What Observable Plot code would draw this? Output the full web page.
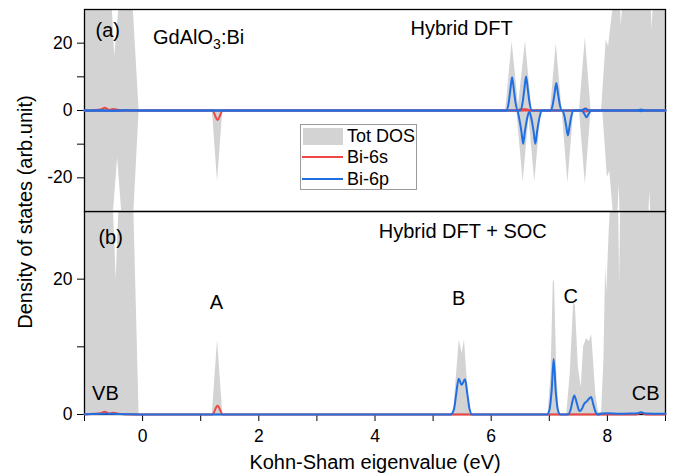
<!DOCTYPE html>
<html><head><meta charset="utf-8">
<script src="https://cdn.jsdelivr.net/npm/d3@7"></script>
<script src="https://cdn.jsdelivr.net/npm/@observablehq/plot@0.6"></script>
<style>
body{margin:0;background:#fff;}
#wrap{position:relative;width:680px;height:475px;overflow:hidden;font-family:"Liberation Sans",Arial,sans-serif;color:#000;}
#wrap svg{position:absolute;left:0;}
#ylab{position:absolute;left:-175px;top:200px;width:400px;height:24px;line-height:24px;text-align:center;font-size:20px;transform:rotate(-90deg);}
#legend{position:absolute;left:300px;top:124px;width:117px;height:66px;box-sizing:border-box;border:1px solid #9a9a9a;background:#fff;}
#legend div{position:absolute;}
#legend span{position:absolute;left:46px;font-size:18px;line-height:18px;white-space:nowrap;}
</style></head><body>
<div id="wrap">
  <div id="ylab">Density of states (arb.unit)</div>
</div>
<script>
// ---------- data (x in eV, y in arb. units) ----------
// Panel (a) Hybrid DFT, spin up (+) and spin down (-)
const totUpA = [[-1,60],[-0.62,42],[-0.52,30],[-0.48,16],[-0.41,30],[-0.32,45],[-0.24,45],[-0.16,30],[-0.06,0],[6.25,0],[6.36,20.4],[6.47,1.5],[6.59,20.6],[6.70,0],[7.02,0],[7.12,20],[7.22,0],[7.52,0],[7.62,21.7],[7.72,0],[7.9,0],[7.98,21],[8.02,19],[8.08,28],[8.14,35],[8.2,40],[8.24,25],[8.29,40],[8.72,45],[8.77,24],[8.82,45],[9,50]];
const totDnA = [[-1,-60],[-0.6,-42],[-0.5,-30],[-0.43,-14],[-0.36,-30],[-0.28,-45],[-0.22,-45],[-0.15,-30],[-0.06,0],[1.2,0],[1.29,-21.2],[1.38,0],[6.44,0],[6.55,-21.2],[6.65,-2],[6.75,-21.2],[6.86,0],[7.22,0],[7.32,-21.6],[7.42,0],[7.52,0],[7.62,-22],[7.72,0],[7.92,0],[8.0,-20],[8.04,-18],[8.1,-30],[8.16,-40],[8.2,-22],[8.24,-40],[8.68,-45],[8.73,-24],[8.78,-45],[9,-50]];
const s6UpA = [[-1,0],[-0.85,0.1],[-0.72,0.3],[-0.65,0.8],[-0.58,0.2],[-0.5,0.45],[-0.42,0.15],[-0.3,0.05],[-0.1,0],[6.45,0],[6.5,0.35],[6.6,0.4],[6.66,0.1],[6.7,0],[7.55,0],[7.62,0.6],[7.69,0],[9,0]];
const s6DnA = [[-1,0],[-0.7,-0.1],[-0.5,-0.1],[-0.2,0],[1.2,0],[1.29,-2.8],[1.38,0],[7.55,0],[7.62,-0.3],[7.69,0],[9,0]];
const p6UpA = [[-1,0],[-0.7,0.1],[-0.55,-0.05],[-0.3,0.05],[-0.1,0],[6.26,0],[6.30,2.2],[6.33,6.2],[6.36,9.9],[6.39,6.2],[6.42,2.2],[6.46,0],[6.50,0],[6.54,2.3],[6.57,6.3],[6.60,10.1],[6.63,6.3],[6.66,2.3],[6.70,0],[7.02,0],[7.06,1.8],[7.09,5],[7.12,8.2],[7.15,5],[7.18,1.8],[7.22,0],[7.56,0],[7.62,0.5],[7.68,0],[8.5,0],[8.58,0.3],[8.64,0],[9,0]];
const p6DnA = [[-1,0],[-0.6,-0.1],[-0.3,0],[6.45,0],[6.48,-2.2],[6.52,-6.2],[6.55,-9.9],[6.58,-6.2],[6.62,-2.2],[6.655,-0.4],[6.69,-2.2],[6.73,-6.2],[6.76,-9.9],[6.79,-6.2],[6.83,-2.2],[6.87,0],[7.22,0],[7.26,-1.6],[7.29,-4.5],[7.32,-7.4],[7.35,-4.5],[7.38,-1.6],[7.42,0],[7.56,0],[7.6,-0.9],[7.64,-2],[7.68,-0.9],[7.72,0],[8.5,0],[8.58,-0.2],[8.64,0],[9,0]];
// Panel (b) Hybrid DFT + SOC
const totB = [[-1,60],[-0.6,42],[-0.5,30],[-0.455,20],[-0.41,30],[-0.3,45],[-0.22,45],[-0.15,30],[-0.06,0],[1.2,0],[1.29,11],[1.38,0],[5.35,0],[5.45,11],[5.5,9],[5.54,11],[5.63,0],[6.98,0],[7.03,6],[7.07,20],[7.09,19.5],[7.13,6],[7.17,0],[7.3,0],[7.36,6],[7.42,16.6],[7.45,16],[7.5,7],[7.55,4],[7.59,10],[7.64,11.2],[7.69,10.8],[7.73,11.8],[7.8,3],[7.85,0.3],[7.9,0.3],[7.94,8],[7.97,22],[7.99,18],[8.03,27],[8.07,33],[8.12,45],[8.18,40],[8.21,19],[8.24,40],[8.32,60],[9,60]];
const s6B = [[-1,0],[-0.85,0.1],[-0.72,0.2],[-0.65,0.4],[-0.58,0.15],[-0.5,0.25],[-0.42,0.1],[-0.2,0],[1.2,0],[1.29,1.3],[1.38,0],[8.5,0],[8.58,0.25],[8.66,0],[9,0]];
const p6B = [[-1,0.05],[-0.6,0.1],[-0.3,0.05],[0,0],[5.3,0],[5.36,0.8],[5.40,3.2],[5.44,5.3],[5.49,4.4],[5.55,5.2],[5.59,3],[5.63,0.7],[5.67,0],[6.96,0],[7.0,0.6],[7.04,3.5],[7.075,8.2],[7.11,3.5],[7.15,0.6],[7.19,0],[7.32,0],[7.37,0.8],[7.40,2],[7.43,2.8],[7.47,1.8],[7.52,0.5],[7.56,0.8],[7.6,1.6],[7.64,1.9],[7.68,2.3],[7.72,2.6],[7.76,1.4],[7.8,0.3],[7.84,0],[7.9,0.15],[8.0,0.2],[8.2,0.1],[8.4,0.15],[8.52,0.2],[8.58,0.35],[8.66,0.15],[9,0.1]];

// ticks
const xTicks = [-1,0,1,2,3,4,5,6,7,8,9];
const xTickLabels = [0,2,4,6,8];
const yTicksA = [-20,-10,0,10,20];
const yTicksB = [0,10,20];
const yTickLabels = [-20,0,20];

// annotations
const labelsA = ["(a)", "GdAlO3:Bi", "Hybrid DFT"];
const labelsAx = [-0.6, 0.18, 5.49];
const labelsAy = [23.7, 21.8, 24.4];
const labelsAanchor = ["middle", "start", "middle"];
const labelsB = ["(b)", "Hybrid DFT + SOC", "A", "B", "C", "VB", "CB"];
const labelsBx = [-0.55, 5.51, 1.27, 5.44, 7.37, -0.64, 8.66];
const labelsBy = [26.1, 27.0, 16.6, 17.1, 17.4, 3.07, 3.07];
const legendNames = ["Tot DOS", "Bi-6s", "Bi-6p"];

// ---------- styles ----------
const GREY = "#d3d3d3", RED = "#f04646", BLUE = "#1f6fe3";
const FONT = '"Liberation Sans", Arial, sans-serif';
const X = d => d[0], Y = d => d[1];
const baseStyle = {fontFamily: FONT, fontSize: "17.5px", color: "#000", background: "transparent", overflow: "visible"};
const fmtY = d => yTickLabels.includes(d) ? String(d) : "";
const fmtX = d => xTickLabels.includes(d) ? String(d) : "";
const area = (data) => Plot.areaY(data, {x: X, y: Y, fill: GREY, clip: true, curve: "linear"});
const line = (data, c) => Plot.lineY(data, {x: X, y: Y, stroke: c, strokeWidth: 2, curve: "monotone-x"});

const labA = labelsA.map((t, i) => ({t, x: labelsAx[i], y: labelsAy[i], a: labelsAanchor[i]}));
const labB = labelsB.map((t, i) => ({t, x: labelsBx[i], y: labelsBy[i]}));

const topPlot = Plot.plot({
  width: 680, height: 212, marginTop: 9, marginBottom: 1, marginLeft: 84, marginRight: 15,
  style: baseStyle,
  x: {domain: [-1, 9], axis: null},
  y: {domain: [-30, 30], ticks: yTicksA, tickFormat: fmtY, tickSize: 7, tickPadding: 5, label: null},
  marks: [
    area(totUpA), area(totDnA),
    Plot.frame({stroke: "#000", strokeWidth: 1.3}),
    line(s6UpA, RED), line(s6DnA, RED),
    line(p6UpA, BLUE), line(p6DnA, BLUE),
    Plot.text(labA.filter(d => d.a === "middle"), {x: "x", y: "y", text: "t", fontSize: 20, textAnchor: "middle"}),
    Plot.text(labA.filter(d => d.a === "start"), {x: "x", y: "y", text: "t", fontSize: 20, textAnchor: "start"})
  ]
});

const botPlot = Plot.plot({
  width: 680, height: 265, marginTop: 1, marginBottom: 61, marginLeft: 84, marginRight: 15,
  style: baseStyle,
  x: {domain: [-1, 9], ticks: xTicks, tickFormat: fmtX, tickSize: 7, tickPadding: 8, label: null},
  y: {domain: [0, 30], ticks: yTicksB, tickFormat: fmtY, tickSize: 7, tickPadding: 5, label: null},
  marks: [
    area(totB),
    Plot.frame({stroke: "#000", strokeWidth: 1.3}),
    line(s6B, RED),
    line(p6B, BLUE),
    Plot.text(labB, {x: "x", y: "y", text: "t", fontSize: 20, textAnchor: "middle"}),
    Plot.text(["Kohn-Sham eigenvalue (eV)"], {frameAnchor: "bottom", dy: 48, lineAnchor: "middle", fontSize: 20})
  ]
});

const wrap = document.getElementById("wrap");
topPlot.style.top = "0px";
botPlot.style.top = "210px";
wrap.appendChild(botPlot);
wrap.appendChild(topPlot);

// subscript in GdAlO3:Bi
d3.select(topPlot).selectAll("text").filter(function() { return this.textContent === "GdAlO3:Bi"; }).each(function() {
  const t = d3.select(this);
  t.text("");
  t.append("tspan").text("GdAlO");
  t.append("tspan").attr("dy", "5").attr("font-size", "14px").text("3");
  t.append("tspan").attr("dy", "-5").text(":Bi");
});

// legend
const lg = document.createElement("div");
lg.id = "legend";
lg.innerHTML =
  `<div style="left:2px;top:3px;width:40px;height:17px;background:${GREY}"></div>` +
  `<div style="left:1px;top:31px;width:41px;height:2px;background:${RED}"></div>` +
  `<div style="left:1px;top:53px;width:41px;height:2px;background:${BLUE}"></div>` +
  `<span style="top:1.5px">${legendNames[0]}</span>` +
  `<span style="top:23px">${legendNames[1]}</span>` +
  `<span style="top:44.5px">${legendNames[2]}</span>`;
wrap.appendChild(lg);
</script>
</body></html>
